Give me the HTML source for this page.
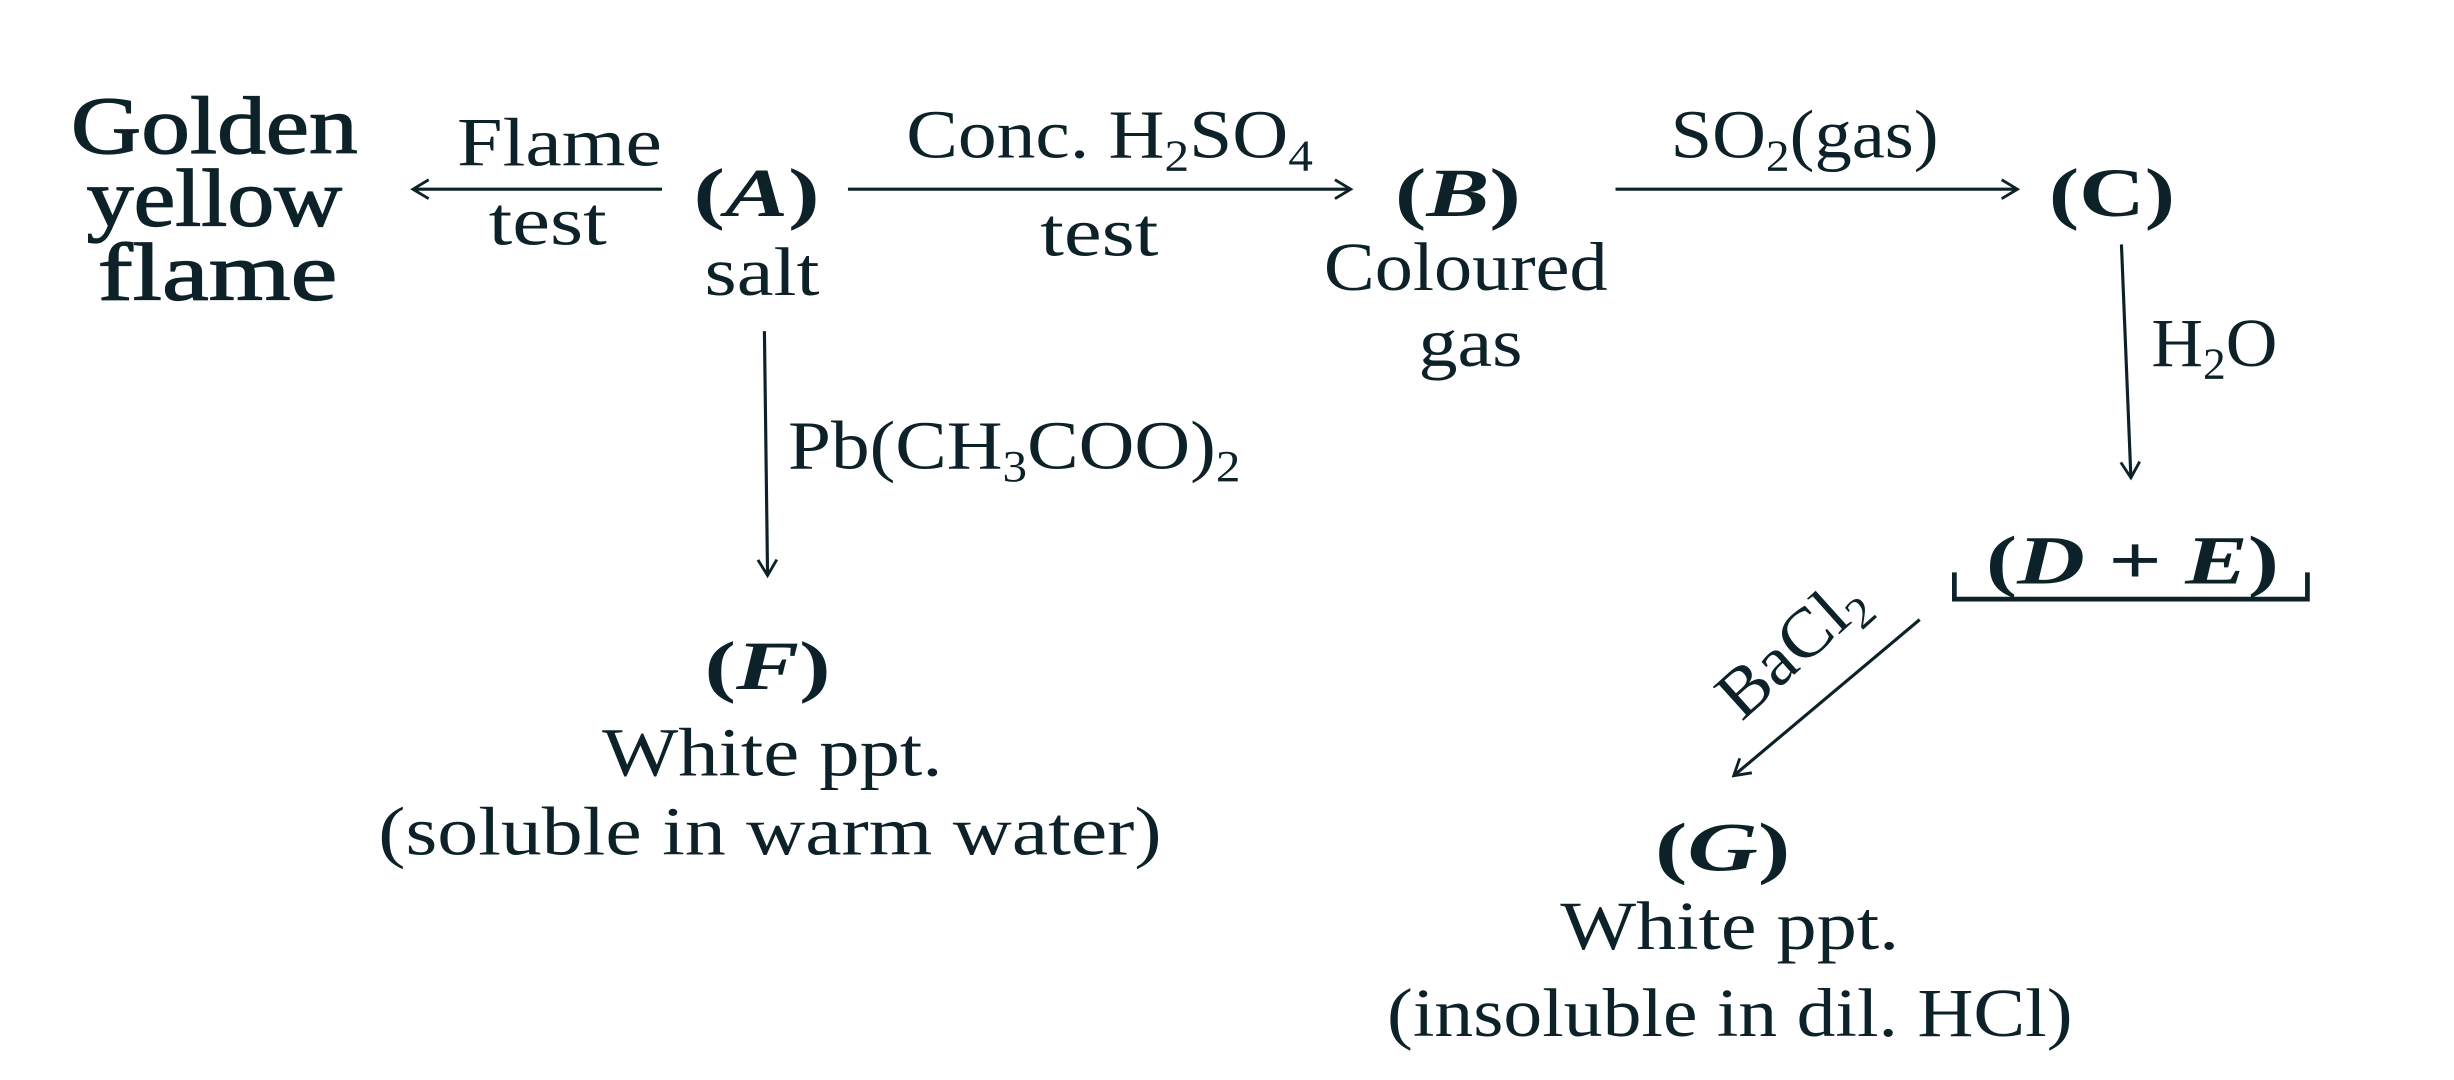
<!DOCTYPE html>
<html><head><meta charset="utf-8"><style>
html,body{margin:0;padding:0;background:#fff;}
svg{display:block;}
text{font-family:"Liberation Serif",serif;fill:#0d2228;}
</style></head><body>
<svg width="2454" height="1080" viewBox="0 0 1557 685" preserveAspectRatio="none" xmlns="http://www.w3.org/2000/svg">
<defs>
<marker id="ah" markerWidth="14" markerHeight="14" refX="11" refY="7" orient="auto" markerUnits="userSpaceOnUse">
<path d="M1,1 L11,7 L1,13" fill="none" stroke="#0d2228" stroke-width="1.8"/>
</marker>
</defs>
<g stroke="#0d2228" stroke-width="2" fill="none">
<line x1="420" y1="120" x2="262" y2="120" marker-end="url(#ah)"/>
<line x1="538" y1="120" x2="857" y2="120" marker-end="url(#ah)"/>
<line x1="1025" y1="120" x2="1280" y2="120" marker-end="url(#ah)"/>
<line x1="485" y1="210" x2="487" y2="365" marker-end="url(#ah)"/>
<line x1="1346" y1="155" x2="1352" y2="303" marker-end="url(#ah)"/>
<line x1="1218" y1="393" x2="1100" y2="492" marker-end="url(#ah)"/>
<path d="M1240,363 L1240,380 L1464,380 L1464,363" stroke-width="3"/>
</g>
<g font-size="52" stroke="#0d2228" stroke-width="0.8">
<text x="45" y="97" textLength="182" lengthAdjust="spacingAndGlyphs">Golden</text>
<text x="55" y="143" textLength="162" lengthAdjust="spacingAndGlyphs">yellow</text>
<text x="62" y="190" textLength="152" lengthAdjust="spacingAndGlyphs">flame</text>
</g>
<g font-size="44">
<text x="290" y="105" textLength="130" lengthAdjust="spacingAndGlyphs">Flame</text>
<text x="310" y="155" textLength="75" lengthAdjust="spacingAndGlyphs">test</text>
<text x="440" y="137" textLength="80" lengthAdjust="spacingAndGlyphs" font-weight="bold">(<tspan font-style="italic">A</tspan>)</text>
<text x="447" y="187" textLength="73" lengthAdjust="spacingAndGlyphs">salt</text>
<text x="575" y="100" textLength="258" lengthAdjust="spacingAndGlyphs">Conc. H<tspan font-size="28" dy="8">2</tspan><tspan dy="-8">SO</tspan><tspan font-size="28" dy="8">4</tspan></text>
<text x="660" y="162" textLength="75" lengthAdjust="spacingAndGlyphs">test</text>
<text x="885" y="137" textLength="80" lengthAdjust="spacingAndGlyphs" font-weight="bold">(<tspan font-style="italic">B</tspan>)</text>
<text x="840" y="184" textLength="180" lengthAdjust="spacingAndGlyphs">Coloured</text>
<text x="900" y="232" textLength="66" lengthAdjust="spacingAndGlyphs">gas</text>
<text x="1060" y="100" textLength="170" lengthAdjust="spacingAndGlyphs">SO<tspan font-size="28" dy="8">2</tspan><tspan dy="-8">(gas)</tspan></text>
<text x="1300" y="137" textLength="80" lengthAdjust="spacingAndGlyphs" font-weight="bold">(C)</text>
<text x="1365" y="232" textLength="80" lengthAdjust="spacingAndGlyphs">H<tspan font-size="28" dy="8">2</tspan><tspan dy="-8">O</tspan></text>
<text x="500" y="297" textLength="287" lengthAdjust="spacingAndGlyphs">Pb(CH<tspan font-size="28" dy="8">3</tspan><tspan dy="-8">COO)</tspan><tspan font-size="28" dy="8">2</tspan></text>
<text x="1260" y="370" textLength="186" lengthAdjust="spacingAndGlyphs" font-weight="bold">(<tspan font-style="italic">D</tspan> + <tspan font-style="italic">E</tspan>)</text>
<text x="0" y="0" textLength="110" lengthAdjust="spacingAndGlyphs" transform="translate(1105,458) rotate(-42)">BaCl<tspan font-size="28" dy="8">2</tspan></text>
<text x="447" y="437" textLength="80" lengthAdjust="spacingAndGlyphs" font-weight="bold">(<tspan font-style="italic">F</tspan>)</text>
<text x="382" y="492" textLength="216" lengthAdjust="spacingAndGlyphs">White ppt.</text>
<text x="240" y="542" textLength="497" lengthAdjust="spacingAndGlyphs">(soluble in warm water)</text>
<text x="1050" y="552" textLength="86" lengthAdjust="spacingAndGlyphs" font-weight="bold">(<tspan font-style="italic">G</tspan>)</text>
<text x="990" y="602" textLength="215" lengthAdjust="spacingAndGlyphs">White ppt.</text>
<text x="880" y="657" textLength="435" lengthAdjust="spacingAndGlyphs">(insoluble in dil. HCl)</text>
</g>
</svg>
</body></html>
